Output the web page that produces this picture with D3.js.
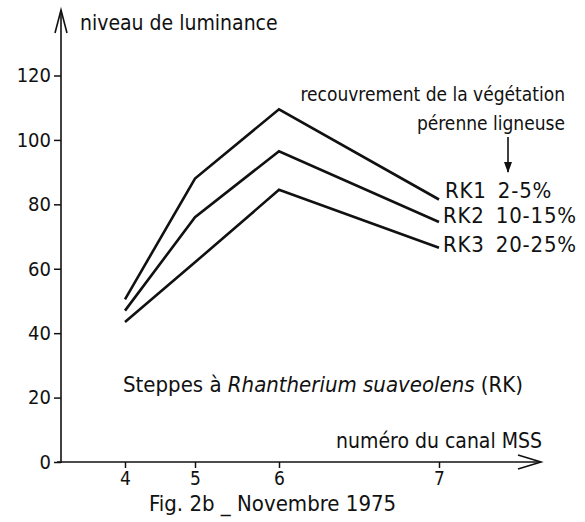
<!DOCTYPE html>
<html>
<head>
<meta charset="utf-8">
<script src="https://cdn.jsdelivr.net/npm/d3@7"></script>
<style>
  html, body { margin: 0; padding: 0; background: #fff; }
  svg { display: block; }
  text { font-family: "Liberation Sans Narrow", "DejaVu Sans Condensed", "Roboto Condensed", sans-serif; fill: #111; }
</style>
</head>
<body>
<svg id="chart" width="585" height="522"></svg>
<script>
// ---- data ----
const channels = [4, 5, 6, 7];
const seriesNames = ["RK1 2-5%", "RK2 10-15%", "RK3 20-25%"];
const rk1 = [50.5, 88, 109.5, 81.5];
const rk2 = [47, 76, 96.5, 74.5];
const rk3 = [43.5, 62, 84.5, 66.5];
const yTicks = [0, 20, 40, 60, 80, 100, 120];
const yTitle = "niveau de luminance";
const xTitle = "numéro du canal MSS";
const noteLine1 = "recouvrement de la végétation";
const noteLine2 = "pérenne ligneuse";
const caption = "Fig. 2b _ Novembre 1975";

const series = [rk1, rk2, rk3];

const svg = d3.select("#chart");
const W = 585, H = 522;
svg.append("rect").attr("width", W).attr("height", H).attr("fill", "#fff");

// scales (channel positions are spaced unevenly, as in the original)
const x = d3.scaleLinear().domain(channels).range([125, 195, 279, 439]);
const y = d3.scaleLinear().domain([0, 120]).range([462, 75.5]);
const axisX0 = 61;
const FONT = '"Liberation Sans Narrow", "DejaVu Sans Condensed", sans-serif';

// y axis
const gy = svg.append("g").attr("transform", `translate(${axisX0},0)`)
  .call(d3.axisLeft(y).tickValues(yTicks).tickSize(7).tickPadding(3).tickFormat(d3.format("d")));
gy.select(".domain").remove();
gy.selectAll(".tick line").attr("stroke", "#111").attr("stroke-width", 1.5);
gy.selectAll(".tick text").attr("font-size", 20).attr("fill", "#111").attr("font-family", FONT);

// x axis
const gx = svg.append("g").attr("transform", `translate(0,${y(0)})`)
  .call(d3.axisBottom(x).tickValues(channels).tickSize(6).tickPadding(4).tickFormat(d3.format("d")));
gx.select(".domain").remove();
gx.selectAll(".tick line").attr("stroke", "#111").attr("stroke-width", 1.5);
gx.selectAll(".tick text").attr("font-size", 19).attr("fill", "#111").attr("font-family", FONT);

// axis lines with open arrowheads
const axes = svg.append("g").attr("stroke", "#111").attr("fill", "none").attr("stroke-width", 1.6);
axes.append("line").attr("x1", axisX0).attr("y1", y(0) + 1).attr("x2", axisX0).attr("y2", 10);
axes.append("path").attr("d", `M${axisX0 - 6},33 L${axisX0},10 L${axisX0 + 6},33`);
axes.append("line").attr("x1", 57).attr("y1", y(0)).attr("x2", 541).attr("y2", y(0));
axes.append("path").attr("d", `M518,${y(0) - 7} L541,${y(0)} L518,${y(0) + 7}`);

// series lines
const line = d3.line().x((d, i) => x(channels[i])).y(d => y(d));
svg.append("g").selectAll("path").data(series).join("path")
  .attr("d", d => line(d))
  .attr("fill", "none").attr("stroke", "#111").attr("stroke-width", 2.6)
  .attr("stroke-linejoin", "miter");

// series labels
const labelDy = [-1.5, 1, 4];
svg.append("g").selectAll("text").data(series).join("text")
  .attr("x", (d, i) => x(channels[3]) + (i === 0 ? 6 : 4))
  .attr("y", (d, i) => y(d[3]) + labelDy[i])
  .attr("font-size", 22)
  .attr("letter-spacing", 0.8)
  .attr("word-spacing", 4)
  .text((d, i) => seriesNames[i]);

// titles
svg.append("text").attr("x", 80).attr("y", 30).attr("font-size", 21).text(yTitle);
svg.append("text").attr("x", 542).attr("y", 448).attr("font-size", 21)
  .attr("text-anchor", "end").text(xTitle);

// note with arrow
svg.append("text").attr("x", 565).attr("y", 101).attr("font-size", 19)
  .attr("text-anchor", "end").text(noteLine1);
svg.append("text").attr("x", 565).attr("y", 130).attr("font-size", 19)
  .attr("text-anchor", "end").text(noteLine2);
svg.append("line").attr("x1", 508).attr("y1", 137).attr("x2", 508).attr("y2", 172)
  .attr("stroke", "#111").attr("stroke-width", 1.6);
svg.append("path").attr("d", "M504,162 L508,173 L512,162 Z").attr("fill", "#111");

// species text
const sp = svg.append("text").attr("x", 123).attr("y", 392).attr("font-size", 22);
sp.append("tspan").text("Steppes à ");
sp.append("tspan").attr("font-style", "italic").text("Rhantherium suaveolens");
sp.append("tspan").text(" (RK)");

// caption
svg.append("text").attr("x", 149).attr("y", 511).attr("font-size", 22).text(caption);
</script>
</body>
</html>
